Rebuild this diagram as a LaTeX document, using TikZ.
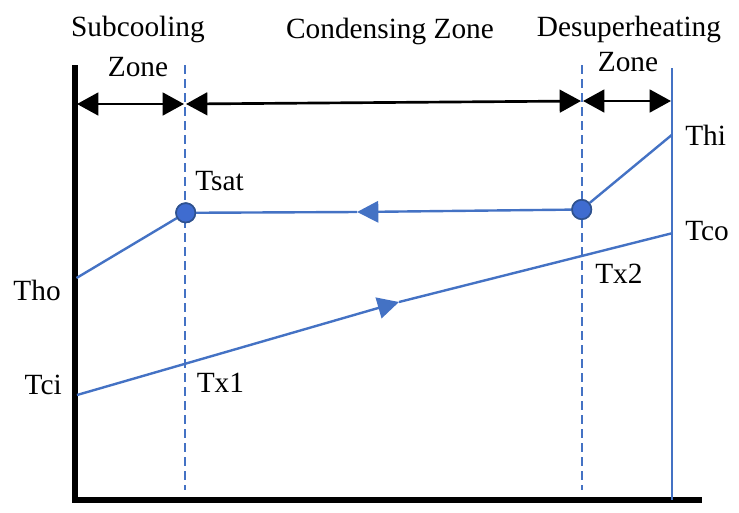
\documentclass[tikz,border=0pt]{standalone}
\usepackage{fontspec}
\setmainfont{Liberation Serif}
\usetikzlibrary{arrows.meta}
\definecolor{lblue}{HTML}{4472C4}
\definecolor{dblue}{HTML}{2F528F}
\definecolor{cfill}{HTML}{3F6CD0}
\begin{document}
\begin{tikzpicture}[x=0.75pt,y=-0.75pt,
  lbl/.style={font=\fontsize{22}{26}\selectfont, inner sep=0pt, text=black},
  axisline/.style={line width=4.6pt, line join=miter, black},
  zonearrow/.style={line width=2pt, black, {Triangle[length=16pt,width=17pt]}-{Triangle[length=16pt,width=17pt]}},
  dashline/.style={lblue, line width=1.8pt, dash pattern=on 6.5pt off 4pt},
  bline/.style={lblue, line width=1.8pt},
  midarrow/.style={bline, -{Triangle[length=16pt,width=16pt]}},
  dot/.style={circle, fill=cfill, draw=dblue, line width=1.2pt, minimum size=14.5pt, inner sep=0pt}
]
\useasboundingbox (0,0) rectangle (739,512);

% axes
\coordinate (ax top) at (75,65);
\coordinate (ax origin) at (75,500);
\coordinate (ax right) at (702,500);
\draw[axisline] (ax top) -- (ax origin) -- (ax right);

% boundaries
\coordinate (d1 top) at (185,65);
\coordinate (d1 bot) at (185,490);
\coordinate (d2 top) at (582,65);
\coordinate (d2 bot) at (582,490);
\coordinate (r top) at (671.7,68);
\coordinate (r bot) at (671.7,500);
\draw[dashline] (d1 top) -- (d1 bot);
\draw[dashline] (d2 top) -- (d2 bot);
\draw[bline] (r top) -- (r bot);

% zone arrows
\coordinate (z0) at (77,104);
\coordinate (z1l) at (184,104);
\coordinate (z1r) at (186,104);
\coordinate (z2l) at (581,101);
\coordinate (z2r) at (583,101);
\coordinate (z3) at (671,101);
\draw[zonearrow] (z0) -- (z1l);
\draw[zonearrow] (z1r) -- (z2l);
\draw[zonearrow] (z2r) -- (z3);

% hot stream
\coordinate (tho) at (76.5,278);
\node[dot] (sat1) at (185.7,212.8) {};
\node[dot] (sat2) at (581.7,209.5) {};
\coordinate (thi) at (671.7,135);
\coordinate (hm) at (357,212);
\draw[bline] (tho) -- (sat1.center);
\draw[midarrow] (sat2) -- (hm);
\draw[bline] (hm) -- (sat1);
\draw[bline] (sat2) -- (thi);
\node[dot] at (sat1) {};
\node[dot] at (sat2) {};

% cold stream
\coordinate (tci) at (77,395);
\coordinate (cm) at (399,302);
\coordinate (tco) at (671.7,233.3);
\draw[midarrow] (tci) -- (cm);
\draw[bline] (cm) -- (tco);

% labels
\node[lbl, anchor=base] (lsub) at (138,36.5) {Subcooling};
\node[lbl, anchor=base] (lzone1) at (138,76) {Zone};
\node[lbl, anchor=base] (lcond) at (390,38) {Condensing Zone};
\node[lbl, anchor=base] (ldes) at (629,36.5) {Desuperheating};
\node[lbl, anchor=base] (lzone2) at (628,71.5) {Zone};
\node[lbl, anchor=base west] (ltsat) at (195,190.5) {Tsat};
\node[lbl, anchor=base west] (lthi) at (685,145) {Thi};
\node[lbl, anchor=base west] (ltco) at (685,240.5) {Tco};
\node[lbl, anchor=base west] (ltx2) at (595,283) {Tx2};
\node[lbl, anchor=base east] (ltho) at (61,300) {Tho};
\node[lbl, anchor=base east] (ltci) at (62,394) {Tci};
\node[lbl, anchor=base west] (ltx1) at (196.5,392.5) {Tx1};
\end{tikzpicture}
\end{document}
